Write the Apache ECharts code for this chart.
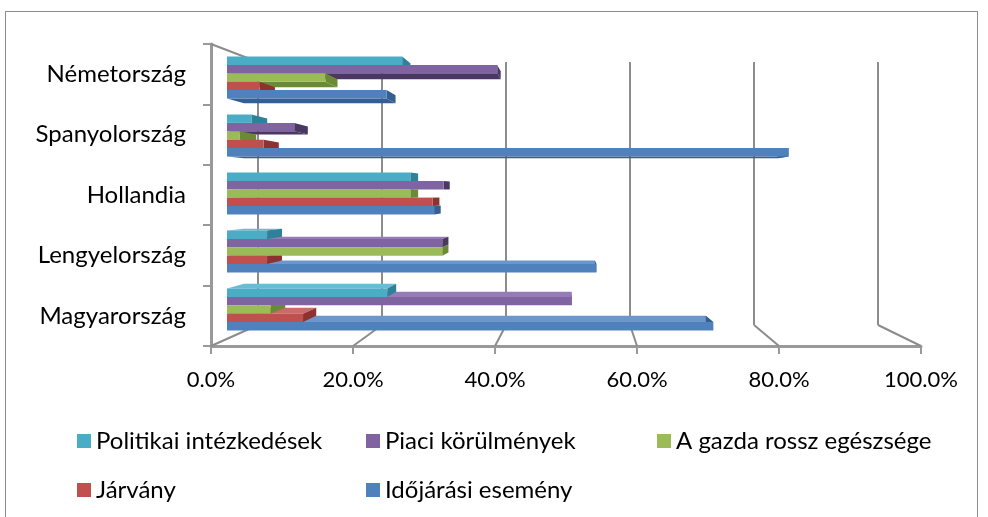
<!DOCTYPE html>
<html>
<head>
<meta charset="utf-8">
<script src="https://cdn.jsdelivr.net/npm/echarts@6/dist/echarts.min.js"></script>
<style>
  html, body { margin: 0; padding: 0; background: #fff; }
  #frame { position: absolute; left: 5px; top: 11px; width: 973px; height: 530px; border: 1px solid #8c8c8c; box-sizing: border-box; pointer-events: none; }
  #chart { position: absolute; left: 0; top: 0; width: 988px; height: 517px; }
</style>
</head>
<body>
<div id="chart"></div>
<div id="frame"></div>
<script>
// Categories bottom-to-top (ECharts category y axis starts at the bottom)
const categories = ['Magyarország', 'Lengyelország', 'Hollandia', 'Spanyolország', 'Németország'];
const xTicks = [0, 0.2, 0.4, 0.6, 0.8, 1.0];

const politikai = [0.236, 0.059, 0.270, 0.036, 0.258];
const piaci     = [0.508, 0.317, 0.319, 0.099, 0.398];
const gazda     = [0.064, 0.317, 0.270, 0.019, 0.145];
const jarvany   = [0.112, 0.059, 0.303, 0.054, 0.048];
const idojarasi = [0.716, 0.544, 0.305, 0.827, 0.235];

// series order: first one is drawn at the top of each group
const seriesNames = ['Politikai intézkedések', 'Piaci körülmények', 'A gazda rossz egészsége', 'Járvány', 'Időjárási esemény'];
const seriesData = [politikai, piaci, gazda, jarvany, idojarasi];
const colors = ['#4BACC6', '#8064A2', '#9BBB59', '#C0504D', '#4F81BD'];
const lights = ['#66BDD4', '#967CB6', '#AECB74', '#CC6A67', '#6C97CC'];
const darks  = ['#2E8199', '#4A3863', '#6B8A35', '#8D3230', '#365F91'];
const legendLeft = [77, 366, 657, 77, 366];
const legendTop = [429, 429, 429, 478, 478];

const FONT = 'Lato';
const axisGray = '#999999';
const BAR_H = 8.4;        // thickness of one bar (px)
const DEPTH = 0.05;       // perspective depth factor of the 3D bars

const G_FRONT = { left: 211, top: 44, width: 710, height: 302 };
const G_BACK  = { left: 258, top: 62, width: 620, height: 263 };
const G_BARS  = { left: 227, top: 48.5, width: 679, height: 290 };

const chart = echarts.init(document.getElementById('chart'), null, { renderer: 'canvas' });
const fmt = v => (v * 100).toFixed(1) + '%';

function makeRender(i, nSeries) {
  return function (params, api) {
    const val = api.value(0), cat = api.value(1);
    const c0 = api.coord([0, cat]);
    const c1 = api.coord([val, cat]);
    const cs = params.coordSys;
    const VX = cs.x + cs.width / 2, VY = cs.y + cs.height / 2;
    const x0 = c0[0], x1 = c1[0];
    const yT = c0[1] - (nSeries * BAR_H) / 2 + i * BAR_H;
    const yB = yT + BAR_H;
    const deep = (x, y) => [x + (VX - x) * DEPTH, y + (VY - y) * DEPTH];
    const children = [];
    if ((yT + yB) / 2 > VY) {
      children.push({ type: 'polygon', z2: 1,
        shape: { points: [[x0, yT], [x1, yT], deep(x1, yT), deep(x0, yT)] },
        style: { fill: lights[i] } });
    } else {
      children.push({ type: 'polygon', z2: 1,
        shape: { points: [[x0, yB], [x1, yB], deep(x1, yB), deep(x0, yB)] },
        style: { fill: darks[i] } });
    }
    children.push({ type: 'polygon', z2: 2,
      shape: { points: [[x1, yT], [x1, yB], deep(x1, yB), deep(x1, yT)] },
      style: { fill: darks[i] } });
    children.push({ type: 'rect', z2: 10,
      shape: { x: x0, y: yT, width: x1 - x0, height: BAR_H },
      style: { fill: colors[i] } });
    return { type: 'group', children: children };
  };
}

const option = {
  animation: false,
  textStyle: { fontFamily: FONT },
  grid: [G_FRONT, G_BACK, G_BARS],
  xAxis: [
    { gridIndex: 0, type: 'value', min: 0, max: 1, interval: 0.2,
      axisLine: { show: true, lineStyle: { color: axisGray, width: 3 } },
      axisTick: { show: true, length: 8, lineStyle: { color: axisGray, width: 2 } },
      splitLine: { show: false },
      axisLabel: { formatter: fmt, fontSize: 22, color: '#000', margin: 23, fontFamily: FONT } },
    { gridIndex: 1, type: 'value', min: 0, max: 1, interval: 0.2,
      axisLine: { show: false }, axisTick: { show: false }, axisLabel: { show: false },
      splitLine: { show: true, lineStyle: { color: '#8c8c8c', width: 2 } } },
    { gridIndex: 2, type: 'value', min: 0, max: 1, interval: 0.2, show: false,
      splitLine: { show: false } }
  ],
  yAxis: [
    { gridIndex: 0, type: 'category', data: categories,
      axisLine: { show: true, lineStyle: { color: axisGray, width: 3 } },
      axisTick: { show: true, length: 8, lineStyle: { color: axisGray, width: 2 } },
      axisLabel: { fontSize: 24, color: '#000', margin: 25, fontFamily: FONT } },
    { gridIndex: 1, type: 'category', data: categories, show: false },
    { gridIndex: 2, type: 'category', data: categories, show: false }
  ],
  legend: seriesNames.map((name, i) => ({
    data: [name],
    left: legendLeft[i], top: legendTop[i], orient: 'horizontal', icon: 'rect',
    itemWidth: 14, itemHeight: 14, padding: 0,
    textStyle: { fontSize: 24, lineHeight: 24, color: '#000', fontFamily: FONT }
  })),
  series: seriesNames.map((name, i) => ({
    name: name,
    type: 'custom',
    xAxisIndex: 2,
    yAxisIndex: 2,
    clip: false,
    z: 3,
    itemStyle: { color: colors[i] },
    encode: { x: 0, y: 1 },
    data: seriesData[i].map((v, j) => [v, j]),
    renderItem: makeRender(i, seriesNames.length)
  }))
};

chart.setOption(option);

// Floor edges and left-wall top edge of the 3D frame, placed from the axes' own scales
const frontBottom = G_FRONT.top + G_FRONT.height;
const backBottom = G_BACK.top + G_BACK.height;
const lines = xTicks.map(v => {
  const xf = chart.convertToPixel({ xAxisIndex: 0 }, v);
  const xb = chart.convertToPixel({ xAxisIndex: 1 }, v);
  return { type: 'line', z: 1, shape: { x1: xf, y1: frontBottom, x2: xb, y2: backBottom },
           style: { stroke: '#8c8c8c', lineWidth: 2 } };
});
lines.push({ type: 'line', z: 1,
  shape: { x1: G_FRONT.left, y1: G_FRONT.top, x2: G_BACK.left, y2: G_BACK.top },
  style: { stroke: '#8c8c8c', lineWidth: 2 } });
chart.setOption({ graphic: lines });
</script>
</body>
</html>
